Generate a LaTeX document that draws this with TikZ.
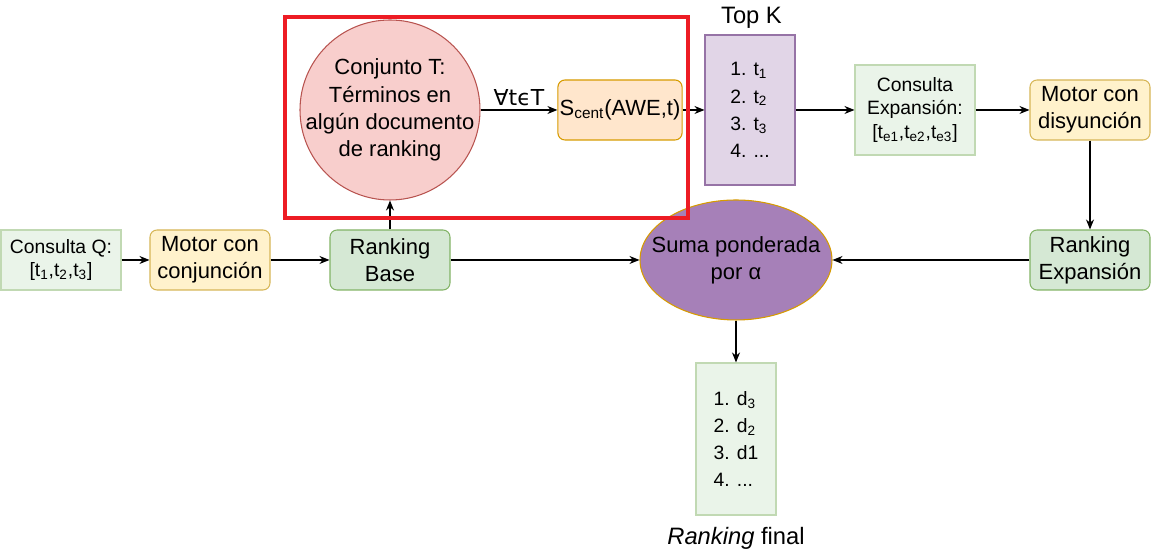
\documentclass[tikz,border=0pt]{standalone}
\usepackage{fontspec}
\setmainfont{Liberation Sans}
\newfontfamily\symbfont{DejaVu Sans}
\usetikzlibrary{arrows.meta,shapes.geometric}

\definecolor{greenfill}{HTML}{D5E8D4}
\definecolor{greenline}{HTML}{82B366}
\definecolor{palefill}{HTML}{EAF4E9}
\definecolor{paleline}{HTML}{C1D9B3}
\definecolor{yellowfill}{HTML}{FFF2CC}
\definecolor{yellowline}{HTML}{D6B656}
\definecolor{orangefill}{HTML}{FFE6CC}
\definecolor{orangeline}{HTML}{D79B00}
\definecolor{redfill}{HTML}{F8CECC}
\definecolor{redline}{HTML}{B85450}
\definecolor{lilacfill}{HTML}{E1D5E7}
\definecolor{lilacline}{HTML}{9673A6}
\definecolor{sumafill}{HTML}{A680B8}
\definecolor{framered}{HTML}{ED1C24}

\tikzset{
  bigtext/.style={font=\fontsize{12.5}{15.5}\selectfont},
  smalltext/.style={font=\fontsize{11}{13.5}\selectfont},
  listtext/.style={font=\fontsize{11}{15.5}\selectfont},
  box/.style={draw, rounded corners=4pt, minimum width=2.4cm, minimum height=1.2cm, align=center, inner sep=1pt, bigtext},
  motorbox/.style={box, fill=yellowfill, draw=yellowline},
  rankbox/.style={box, fill=greenfill, draw=greenline},
  querybox/.style={draw=paleline, fill=palefill, minimum width=2.4cm, align=center, inner sep=1pt, smalltext},
  listbox/.style={draw, align=left, listtext},
  inside/.style={align=center, inner sep=0pt, bigtext},
}

\begin{document}
\begin{tikzpicture}[>={Stealth[length=2mm,width=1.6mm]}, line width=0.6pt]
			%%%%% START %%%%%
			\useasboundingbox (0,0) rectangle (23.02,11.04);
			
			\node[querybox, minimum height=1.2cm] (consQ) at (1.22, 5.84) {Consulta Q:\\{[}t\textsubscript{1},t\textsubscript{2},t\textsubscript{3}]};
			\node[motorbox] (motorC) at (4.2, 5.84) {Motor con\\conjunción};
			\node[rankbox] (rankB) at (7.8, 5.84) {Ranking\\Base};
			
			\node[circle, draw=redline, fill=redfill, minimum size=3.6cm, inner sep=0pt,
			      label={[inside]center:Conjunto T:\\Términos en\\algún documento\\de ranking}] (conjT) at (7.8, 8.84) {};
			\node[box, fill=orangefill, draw=orangeline] (scent) at (12.4, 8.84) {S\textsubscript{cent}(AWE,t)};
			
			\node[listbox, fill=lilacfill, draw=lilacline, minimum width=1.8cm, minimum height=3cm] (topK) at (15.0, 8.84) {1. t\textsubscript{1}\\2. t\textsubscript{2}\\3. t\textsubscript{3}\\4. ...};
			\node[font=\fontsize{13.5}{16}\selectfont] (topKlabel) at (15.03, 10.68) {Top K};
			
			\node[querybox, minimum height=1.8cm] (consE) at (18.3, 8.84) {Consulta\\Expansión:\\{[}t\textsubscript{e1},t\textsubscript{e2},t\textsubscript{e3}]};
			\node[motorbox] (motorD) at (21.8, 8.84) {Motor con\\disyunción};
			\node[rankbox] (rankE) at (21.8, 5.84) {Ranking\\Expansión};
			
			\node[ellipse, draw=orangeline, fill=sumafill, minimum width=3.84cm, minimum height=2.4cm, inner sep=0pt,
			      label={[inside]center:Suma ponderada\\por α}] (suma) at (14.72, 5.84) {};
			
			\node[listbox, fill=palefill, draw=paleline, minimum width=1.6cm, minimum height=3.04cm] (final) at (14.72, 2.26) {1. d\textsubscript{3}\\2. d\textsubscript{2}\\3. d1\\4. ...};
			\node[font=\fontsize{13.5}{16}\selectfont] (finalLabel) at (14.72, 0.28) {\textit{Ranking} final};
			
			\draw[->] (consQ) -- (motorC);
			\draw[->] (motorC) -- (rankB);
			\draw[->] (rankB) -- (conjT);
			\draw[->] (conjT) -- node[above, font=\symbfont\fontsize{12.5}{15}\selectfont, yshift=-1pt] {∀tϵT} (scent);
			\draw[->] (scent) -- (topK);
			\draw[->] (topK) -- (consE);
			\draw[->] (consE) -- (motorD);
			\draw[->] (motorD) -- (rankE);
			\draw[->] (rankB) -- (suma);
			\draw[->] (rankE) -- (suma);
			\draw[->] (suma) -- (final);
			
			\draw[line width=2.3pt, color=framered] (5.7, 10.7) rectangle (13.76, 6.68);
			
			%%%%% END %%%%%
		\end{tikzpicture}
\end{document}
